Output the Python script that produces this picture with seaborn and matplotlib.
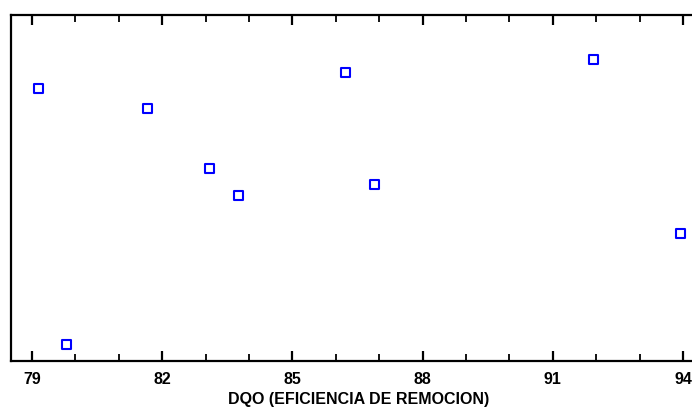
import matplotlib
matplotlib.use("Agg")
import matplotlib.pyplot as plt
import seaborn as sns
import pandas as pd
from matplotlib.ticker import MultipleLocator, NullLocator

# Data (y axis has no labels; values in relative units)
dqo = [79.14, 79.79, 81.66, 83.10, 83.76, 86.23, 86.89, 91.93, 93.94]
yval = [272.2, 15.8, 252.2, 191.8, 165.2, 287.8, 176.2, 301.2, 127.2]
xticks = [79, 82, 85, 88, 91, 94]
xlabel = "DQO (EFICIENCIA DE REMOCION)"

df = pd.DataFrame({"x": dqo, "y": yval})

sns.set_style("white")
plt.rcParams['font.family'] = ['Liberation Sans', 'DejaVu Sans']

fig = plt.figure(figsize=(6.92, 4.12), dpi=100)
W, H = 692, 412
left, right, top, bottom = 11, 707, 15, 360.5
ax = fig.add_axes([left / W, (H - bottom) / H, (right - left) / W, (bottom - top) / H])

sns.scatterplot(data=df, x="x", y="y", ax=ax, marker="s", s=42,
                facecolors="none", edgecolor="#0000ff", linewidth=1.5,
                legend=False)

ax.set_xlim(79 - 21 / 43.4, 79 + (707 - 32) / 43.4)
ax.set_ylim(0, 345.5)
ax.set_xticks(xticks)
ax.set_xticklabels([str(t) for t in xticks], fontsize=11.5, fontweight="bold",
                   color="black")
ax.xaxis.set_minor_locator(MultipleLocator(1))
ax.yaxis.set_major_locator(NullLocator())
ax.set_ylabel("")
ax.set_xlabel(xlabel, fontsize=11.5, fontweight="bold", labelpad=4, color="black")

for sp in ax.spines.values():
    sp.set_visible(True)
    sp.set_linewidth(1.6)
    sp.set_color("black")

ax.tick_params(axis="x", which="major", direction="in", length=7, width=1.6,
               top=True, bottom=True, pad=8, colors="black")
ax.tick_params(axis="x", which="minor", direction="in", length=5, width=1.3,
               top=True, bottom=True, colors="black")
ax.tick_params(axis="y", left=False, right=False)

fig.savefig("out.png", dpi=100)
